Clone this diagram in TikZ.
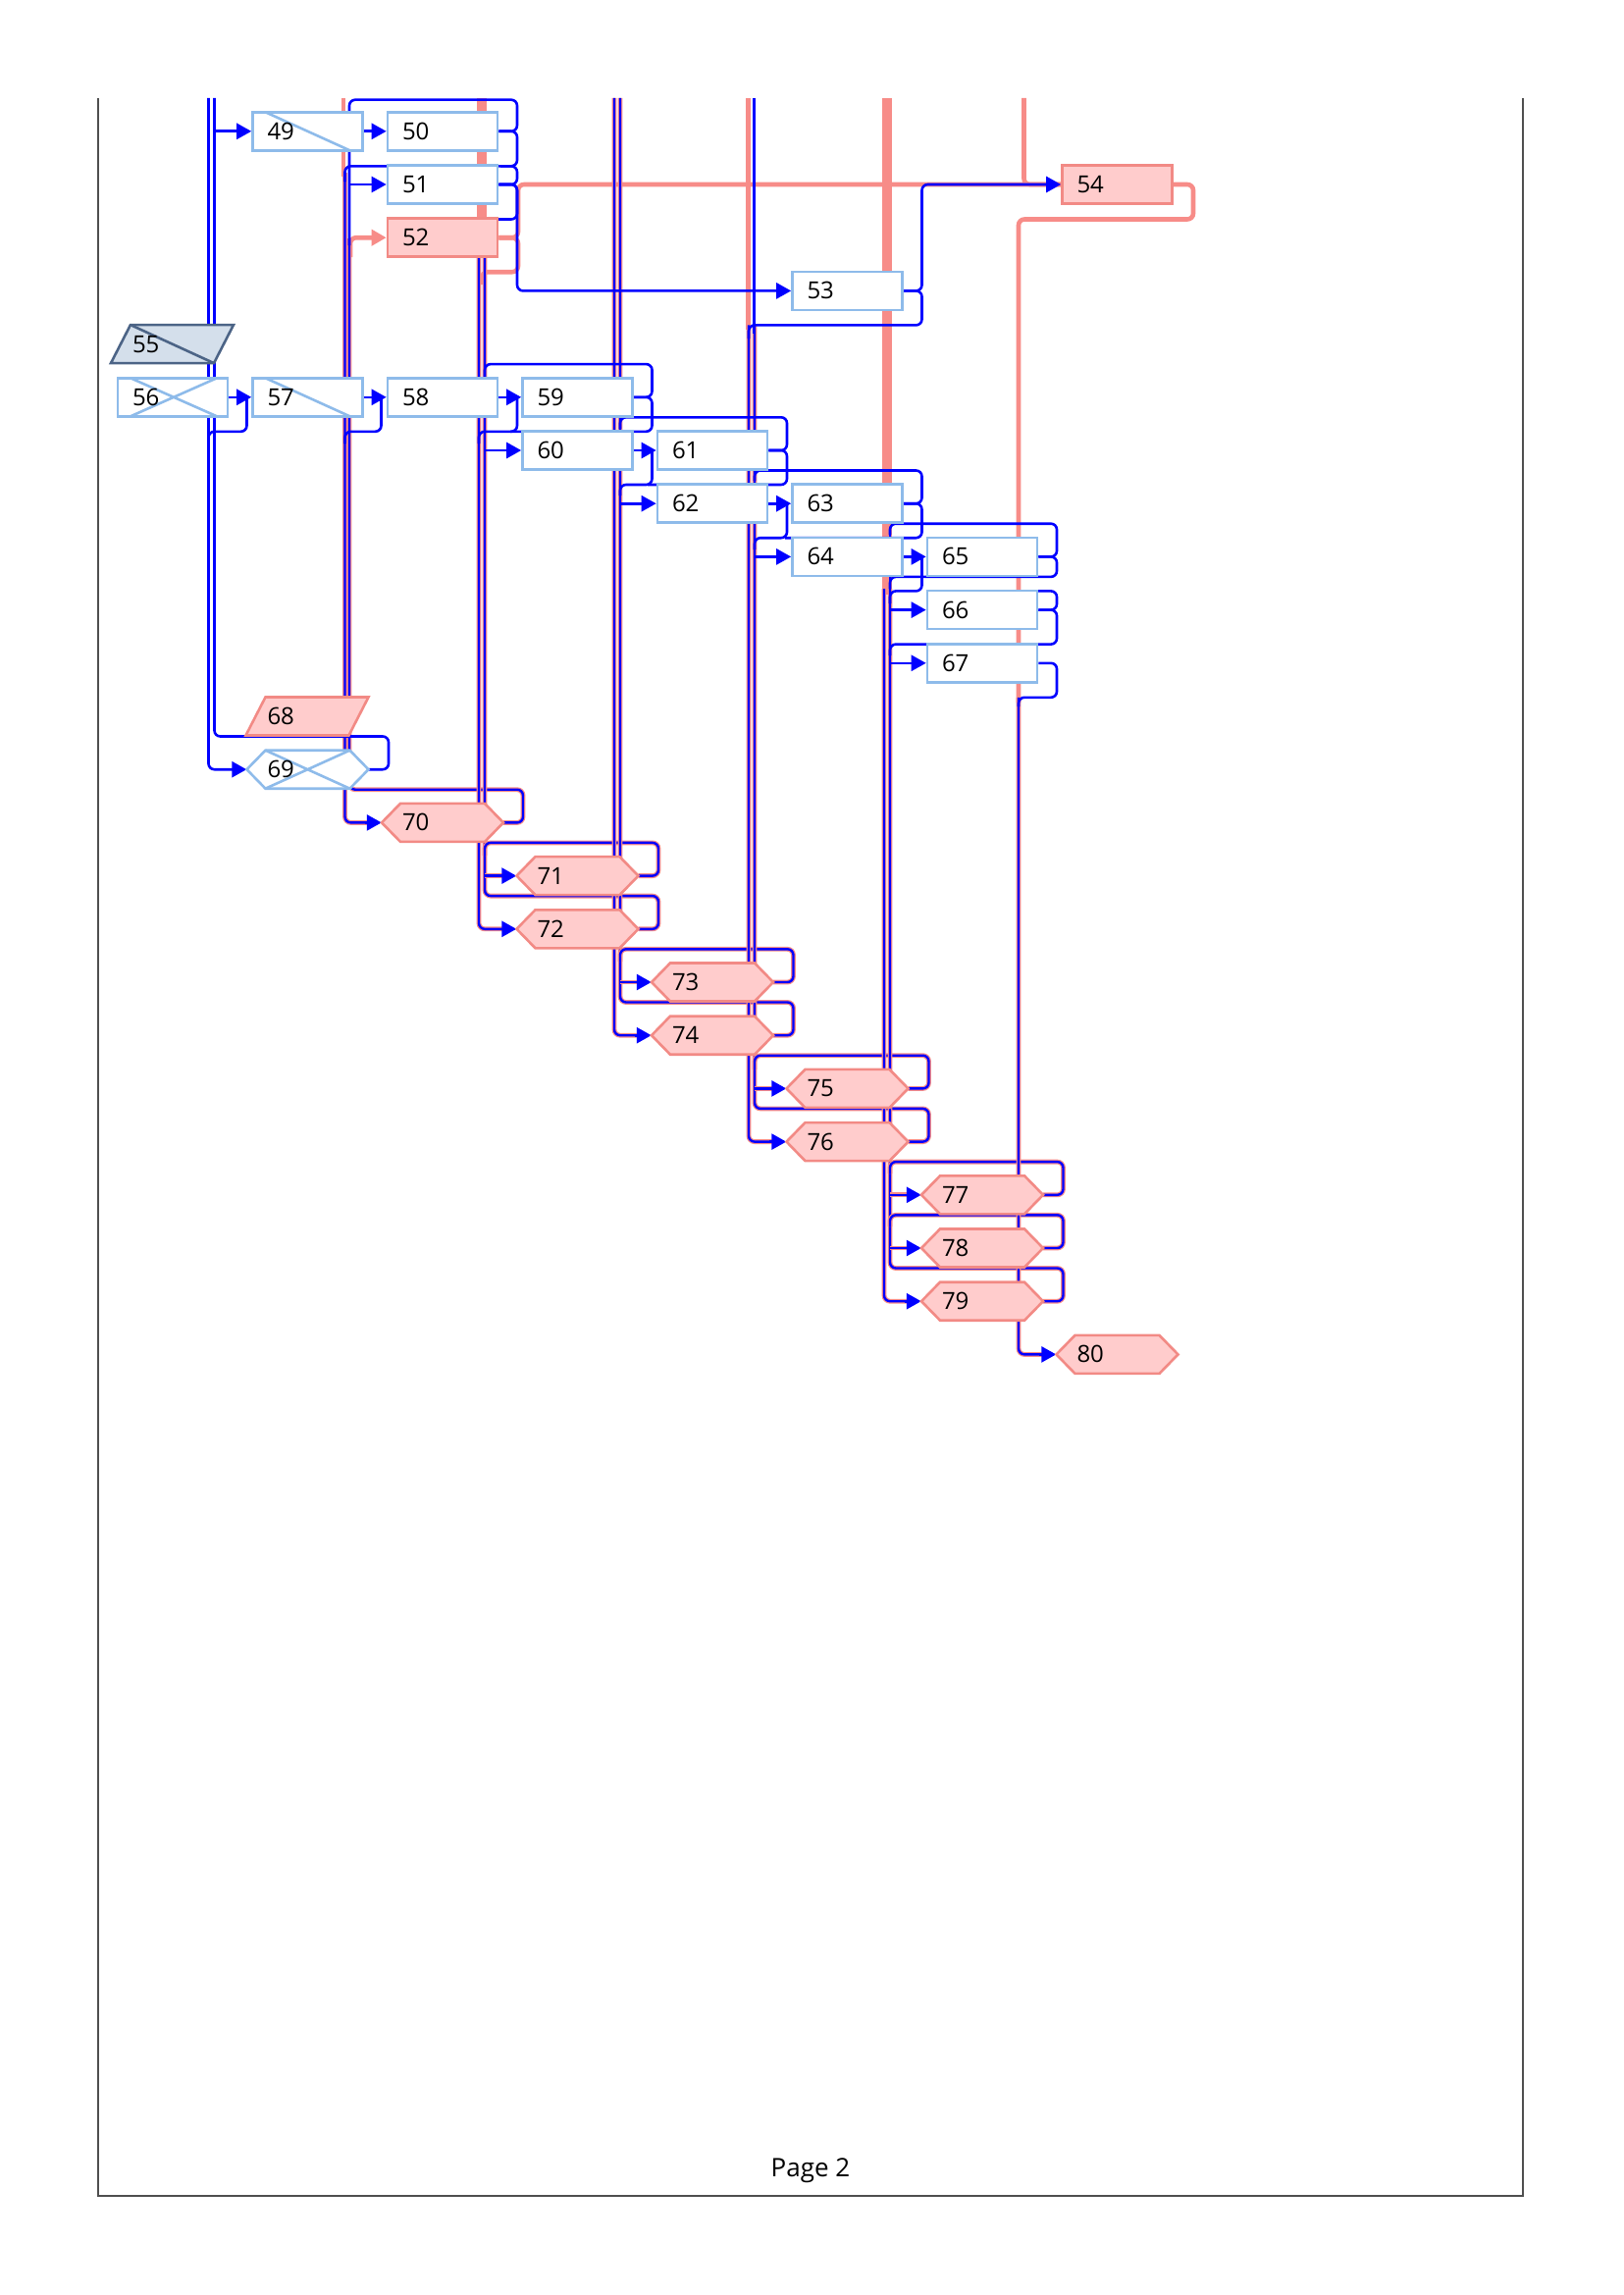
\documentclass[tikz,border=0pt]{standalone}
\usepackage{fontspec}
\setmainfont{Open Sans}
\usetikzlibrary{arrows.meta}

\definecolor{linkblue}{HTML}{0000FF}
\definecolor{critlink}{HTML}{F78C88}
\definecolor{taskline}{HTML}{8EBBEA}
\definecolor{critfill}{HTML}{FFCCCC}
\definecolor{critline}{HTML}{F28A85}
\definecolor{sumfill}{HTML}{D4DFEB}
\definecolor{sumline}{HTML}{4C6486}
\definecolor{pageline}{HTML}{4F4F4F}

\pgfdeclarelayer{links}
\pgfdeclarelayer{shapes}
\pgfsetlayers{links,shapes,main}

\tikzset{
  lbl/.style={text width=82pt, align=left, inner xsep=15pt, inner ysep=0pt,
    minimum height=39pt, text height=17pt, text depth=0pt,
    font=\fontsize{24}{28}\selectfont},
  task/.style={lbl, draw=taskline, fill=white, line width=2.6pt},
  crittask/.style={lbl, draw=critline, fill=critfill, line width=2.6pt},
  slash/.style={path picture={\draw[taskline, line width=2.6pt]
    (path picture bounding box.center) +(-43,-19.5) -- +(43,19.5);}},
  cross/.style={path picture={\draw[taskline, line width=2.6pt]
    (path picture bounding box.center) +(-43,-19.5) -- +(45,19.5)
    +(-43,19.5) -- +(45,-19.5);}},
  hexcrit/.style={draw=critline, fill=critfill, line width=2.6pt},
  hextask/.style={draw=taskline, fill=white, line width=2.6pt},
  paracrit/.style={draw=critline, fill=critfill, line width=2.6pt},
  parasum/.style={draw=sumline, fill=sumfill, line width=2.6pt},
  lnk/.style={draw=linkblue, line width=2.6pt, rounded corners=6pt},
  crl/.style={draw=critlink, line width=4.6pt, rounded corners=6pt},
  crw/.style={draw=critlink, line width=10pt},
  dbl/.style={draw=critlink, line width=1.2pt, double=linkblue,
    double distance=2.4pt, rounded corners=6pt},
  arr/.style={-{Triangle[length=15pt,width=16pt]}},
}

\begin{document}
\begin{tikzpicture}[x=1pt,y=-1pt]
  \useasboundingbox (0,0) rectangle (1654,2339);

  \draw[pageline, line width=2.4pt] (100,100) -- (100,2238) -- (1552,2238) -- (1552,100);
  \node[font=\fontsize{26}{30}\selectfont, anchor=base] (page) at (826,2218) {Page 2};

  \begin{scope}[every node/.style={task}]
    \node (n50) at (451,133.8) {50};
    \node (n51) at (451,188) {51};
    \node (n53) at (863.5,296.4) {53};
    \node (n58) at (451,404.8) {58};
    \node (n59) at (588.5,404.8) {59};
    \node (n60) at (588.5,459) {60};
    \node (n61) at (726,459) {61};
    \node (n62) at (726,513.2) {62};
    \node (n63) at (863.5,513.2) {63};
    \node (n64) at (863.5,567.4) {64};
    \node (n65) at (1001,567.4) {65};
    \node (n66) at (1001,621.6) {66};
    \node (n67) at (1001,675.8) {67};
    \node[slash] (n49) at (313.5,133.8) {49};
    \node[slash] (n57) at (313.5,404.8) {57};
    \node[cross] (n56) at (176,404.8) {56};
  \end{scope}
  \begin{scope}[every node/.style={crittask}]
    \node (n52) at (451,242.2) {52};
    \node (n54) at (1138.5,188) {54};
  \end{scope}
  \begin{scope}[every node/.style={lbl}]
    \node (n55) at (176,350.6) {55};
    \node (n68) at (313.5,730) {68};
    \node (n69) at (313.5,784.2) {69};
    \node (n70) at (451,838.4) {70};
    \node (n71) at (588.5,892.6) {71};
    \node (n72) at (588.5,946.8) {72};
    \node (n73) at (726,1001) {73};
    \node (n74) at (726,1055.2) {74};
    \node (n75) at (863.5,1109.4) {75};
    \node (n76) at (863.5,1163.6) {76};
    \node (n77) at (1001,1217.8) {77};
    \node (n78) at (1001,1272) {78};
    \node (n79) at (1001,1326.2) {79};
    \node (n80) at (1138.5,1380.4) {80};
  \end{scope}

  \begin{pgfonlayer}{shapes}
    \foreach \n in {70,...,80}
      \draw[hexcrit] (n\n.center) +(-62,0) -- +(-43,-19.5) -- +(43,-19.5)
        -- +(62,0) -- +(43,19.5) -- +(-43,19.5) -- cycle;
    \draw[hextask] (n69.center) +(-62,0) -- +(-43,-19.5) -- +(43,-19.5)
      -- +(62,0) -- +(43,19.5) -- +(-43,19.5) -- cycle;
    \draw[taskline, line width=2.6pt] (n69.center) +(-43,-19.5) -- +(43,19.5)
      +(-43,19.5) -- +(43,-19.5);
    \draw[paracrit] (n68.center) +(-63,19.5) -- +(-43,-19.5) -- +(62,-19.5)
      -- +(42,19.5) -- cycle;
    \draw[parasum] (n55.center) +(-63,19.5) -- +(-43,-19.5) -- +(62,-19.5)
      -- +(42,19.5) -- cycle;
    \draw[sumline, line width=2.6pt] (n55.center) +(-43,-19.5) -- +(42,19.5);
  \end{pgfonlayer}

  \begin{pgfonlayer}{links}
    \draw[crw] (491,100) -- (491,232);
    \draw[crw] (903.5,100) -- (903.5,606);
    \draw[crl] (350,100) -- (350,180);
    \draw[crl] (762.5,100) -- (762.5,336);
    \draw[crl] (1043.5,100) -- (1043.5,188) -- (n54.west);
    \draw[crl] (n52.east) -- (528,242.2) -- (528,188) -- (n54.west);
    \draw[crl] (n52.east) -- (528,242.2) -- (528,277.2) -- (491,277.2) -- (491,290);
    \draw[crl] (n54.east) -- (1216,188) -- (1216,223.5) -- (1038,223.5) -- (1038,716);
    \draw[crl, arr] (357,262) -- (357,242.2) -- (n52.west);

    \draw[dbl] (351.5,176) -- (351.5,838.4) -- (377,838.4);
    \draw[dbl] (356,243) -- (356,804.7) -- (533,804.7) -- (533,838.4) -- ([xshift=6pt]n70.east);
    \draw[dbl] (488,226) -- (488,946.8) -- (514,946.8);
    \draw[dbl] (494,226) -- (494,913.1) -- (671,913.1) -- (671,946.8) -- ([xshift=6pt]n72.east);
    \draw[dbl] ([xshift=6pt]n71.east) -- (671,892.6) -- (671,858.9) -- (494,858.9) -- (494,872);
    \draw[dbl] (494,892.6) -- (514,892.6);
    \draw[dbl] (626,100) -- (626,1055.2) -- (652,1055.2);
    \draw[dbl] (632,100) -- (632,1021.5) -- (808.5,1021.5) -- (808.5,1055.2) -- ([xshift=6pt]n74.east);
    \draw[dbl] ([xshift=6pt]n73.east) -- (808.5,1001) -- (808.5,967.3) -- (632,967.3) -- (632,980);
    \draw[dbl] (632,1001) -- (652,1001);
    \draw[dbl] (763,331.4) -- (763,1163.6) -- (789,1163.6);
    \draw[dbl] (769,331.4) -- (769,1129.9) -- (946.5,1129.9) -- (946.5,1163.6) -- ([xshift=6pt]n76.east);
    \draw[dbl] ([xshift=6pt]n75.east) -- (946.5,1109.4) -- (946.5,1075.7) -- (769,1075.7) -- (769,1090);
    \draw[dbl] (769,1109.4) -- (789,1109.4);
    \draw[dbl] (901,600) -- (901,1326.2) -- (927,1326.2);
    \draw[dbl] (907,600) -- (907,1292.5) -- (1083.5,1292.5) -- (1083.5,1326.2) -- ([xshift=6pt]n79.east);
    \draw[dbl] ([xshift=6pt]n77.east) -- (1083.5,1217.8) -- (1083.5,1184.1) -- (907,1184.1) -- (907,1196);
    \draw[dbl] ([xshift=6pt]n78.east) -- (1083.5,1272) -- (1083.5,1238.3) -- (907,1238.3) -- (907,1250);
    \draw[dbl] (907,1217.8) -- (927,1217.8);
    \draw[dbl] (907,1272) -- (927,1272);
    \draw[dbl] (1038,710.8) -- (1038,1380.4) -- (1064,1380.4);

    \draw[lnk, arr] (372,838.4) -- ([xshift=-6pt]n70.west);
    \draw[lnk, arr] (509,946.8) -- ([xshift=-6pt]n72.west);
    \draw[lnk, arr] (509,892.6) -- ([xshift=-6pt]n71.west);
    \draw[lnk, arr] (647,1055.2) -- ([xshift=-6pt]n74.west);
    \draw[lnk, arr] (647,1001) -- ([xshift=-6pt]n73.west);
    \draw[lnk, arr] (784,1163.6) -- ([xshift=-6pt]n76.west);
    \draw[lnk, arr] (784,1109.4) -- ([xshift=-6pt]n75.west);
    \draw[lnk, arr] (922,1326.2) -- ([xshift=-6pt]n79.west);
    \draw[lnk, arr] (922,1217.8) -- ([xshift=-6pt]n77.west);
    \draw[lnk, arr] (922,1272) -- ([xshift=-6pt]n78.west);
    \draw[lnk, arr] (1059,1380.4) -- ([xshift=-6pt]n80.west);

    \draw[lnk, arr] (212.5,100) -- (212.5,784.2) -- ([xshift=-6pt]n69.west);
    \draw[lnk] (218.5,100) -- (218.5,750.5) -- (396,750.5) -- (396,784.2) -- ([xshift=6pt]n69.east);
    \draw[lnk, arr] (218.5,133.8) -- (n49.west);
    \draw[lnk] (212.5,452) -- (212.5,439.8) -- (251.5,439.8) -- (251.5,404.8);
    \draw[lnk, arr] (n56.east) -- (n57.west);
    \draw[lnk, arr] (n49.east) -- (n50.west);
    \draw[lnk, arr] (n57.east) -- (n58.west);
    \draw[lnk] (351.5,452) -- (351.5,439.8) -- (388.5,439.8) -- (388.5,404.8);

    \draw[lnk] (n50.east) -- (527,133.8) -- (527,101.7) -- (356,101.7) -- (356,250);
    \draw[lnk] (n50.east) -- (527,133.8) -- (527,169.3) -- (351.5,169.3) -- (351.5,185);
    \draw[lnk, arr] (356,188) -- (n51.west);
    \draw[lnk] (n51.east) -- (527,188) -- (527,169.3) -- (510,169.3);
    \draw[lnk] (n51.east) -- (527,188) -- (527,223.5) -- (494,223.5) -- (494,236);
    \draw[lnk, arr] (n51.east) -- (527,188) -- (527,296.4) -- (n53.west);

    \draw[lnk, arr] (n58.east) -- (n59.west);
    \draw[lnk] (527,404.8) -- (527,439.8) -- (488,439.8) -- (488,452);
    \draw[lnk] (n59.east) -- (664.5,404.8) -- (664.5,371.1) -- (494,371.1) -- (494,385);
    \draw[lnk] (n59.east) -- (664.5,404.8) -- (664.5,439.8) -- (520,439.8);
    \draw[lnk, arr] (494,459) -- (n60.west);
    \draw[lnk, arr] (n60.east) -- (n61.west);
    \draw[lnk] (664.5,459) -- (664.5,494) -- (632,494) -- (632,505);
    \draw[lnk] (n61.east) -- (802,459) -- (802,425.3) -- (632,425.3) -- (632,437);
    \draw[lnk] (n61.east) -- (802,459) -- (802,494) -- (660,494);
    \draw[lnk, arr] (632,513.2) -- (n62.west);
    \draw[lnk, arr] (n62.east) -- (n63.west);
    \draw[lnk] (802,513.2) -- (802,548.2) -- (769,548.2) -- (769,560);
    \draw[lnk] (n63.east) -- (939.5,513.2) -- (939.5,479.5) -- (769,479.5) -- (769,490);
    \draw[lnk] (n63.east) -- (939.5,513.2) -- (939.5,548.2) -- (800,548.2);

    \draw[lnk, arr] (n53.east) -- (939.5,296.4) -- (939.5,188) -- (n54.west);
    \draw[lnk] (n53.east) -- (939.5,296.4) -- (939.5,331.4) -- (763,331.4) -- (763,345);
    \draw[lnk] (768.5,100) -- (768.5,340);
    \draw[lnk, arr] (769,567.4) -- (n64.west);
    \draw[lnk, arr] (n64.east) -- (n65.west);
    \draw[lnk] (939.5,567.4) -- (939.5,602.4) -- (907,602.4) -- (907,615);
    \draw[lnk] (907,540) -- (907,680);
    \draw[lnk] (n65.east) -- (1077,567.4) -- (1077,533.7) -- (907,533.7) -- (907,545);
    \draw[lnk] (n65.east) -- (1077,567.4) -- (1077,587.9) -- (907,587.9) -- (907,600);
    \draw[lnk, arr] (907,621.6) -- (n66.west);
    \draw[lnk] (n66.east) -- (1077,621.6) -- (1077,602.4) -- (950,602.4);
    \draw[lnk] (n66.east) -- (1077,621.6) -- (1077,656.6) -- (907,656.6) -- (907,668);
    \draw[lnk, arr] (907,675.8) -- (n67.west);
    \draw[lnk] (n67.east) -- (1077,675.8) -- (1077,710.8) -- (1038,710.8) -- (1038,720);
  \end{pgfonlayer}
\end{tikzpicture}
\end{document}
